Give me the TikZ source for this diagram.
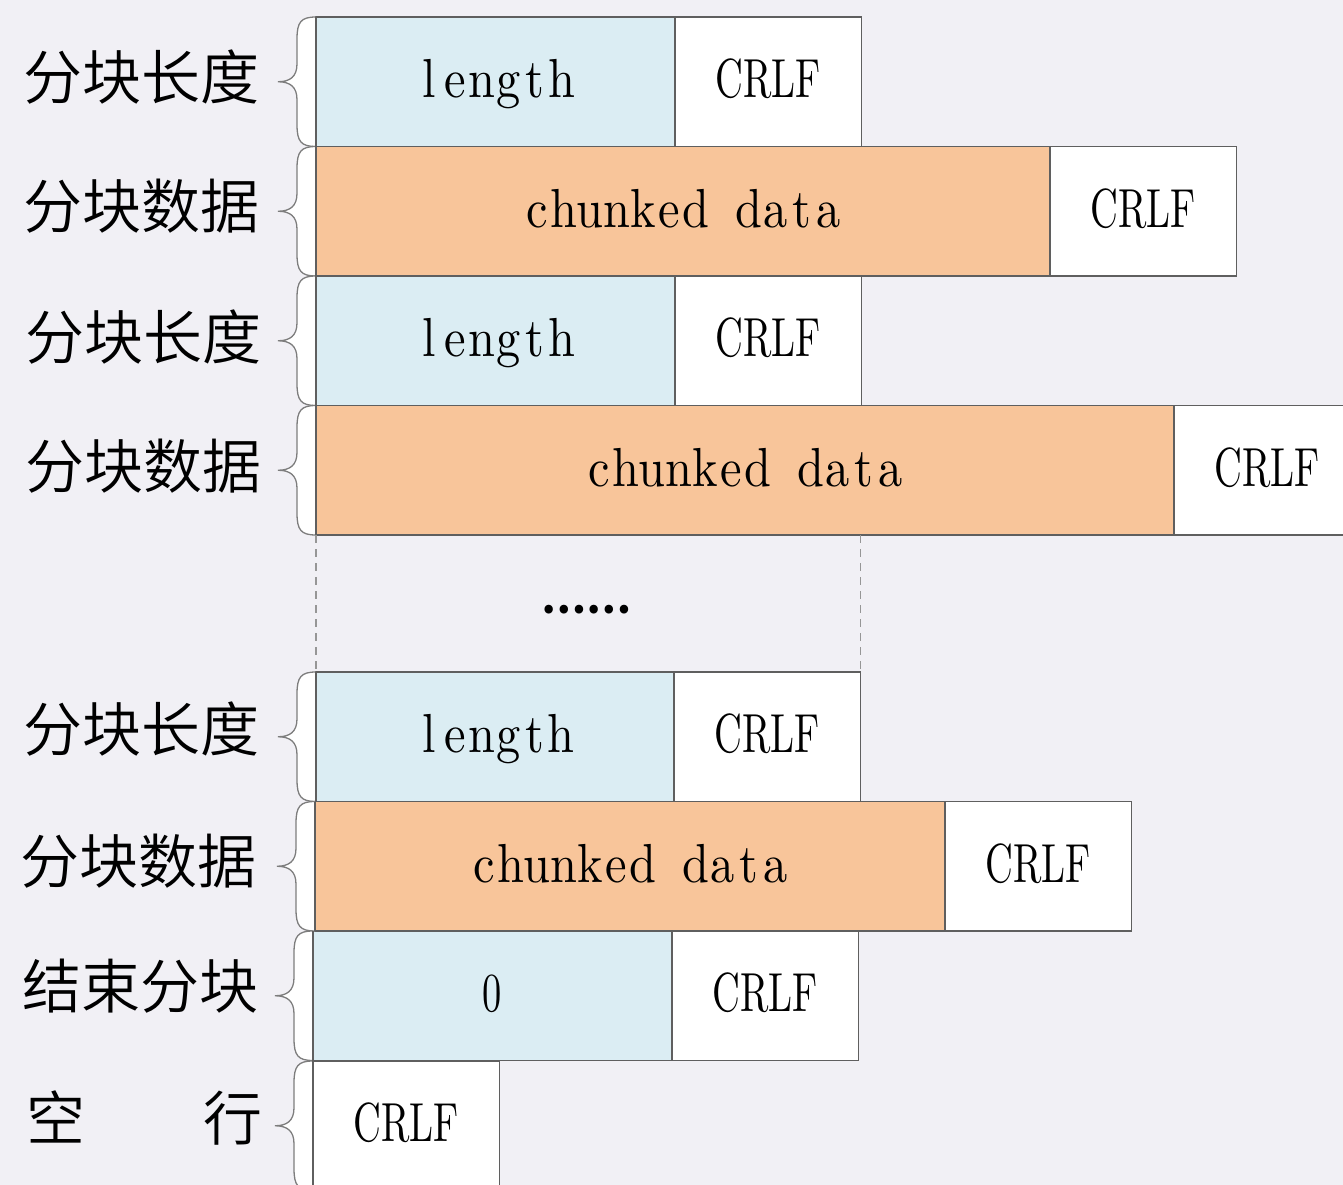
\documentclass[tikz,border=0pt]{standalone}
\usepackage{fontspec}
\usetikzlibrary{calc}
\newfontfamily\cjk{Noto Sans CJK SC DemiLight}
\newfontfamily\cjkreg{Noto Sans CJK SC}
\newfontfamily\latf[FakeStretch=0.88]{lmroman10-regular.otf}
\newfontfamily\capf[FakeStretch=0.70]{lmroman10-regular.otf}
\definecolor{bgc}{RGB}{241,240,245}
\definecolor{lenblue}{RGB}{219,237,243}
\definecolor{dataorg}{RGB}{248,197,154}
\definecolor{boxline}{RGB}{95,95,95}
\definecolor{braceline}{RGB}{125,125,125}
\definecolor{dashc}{RGB}{150,150,150}
\newlength\cellw
\setlength\cellw{26.5pt}
\def\cellloop#1{\ifx#1\relax\else\makebox[\cellw]{#1}\expandafter\cellloop\fi}
\newcommand\monotxt[1]{\cellloop#1\relax}
\newcommand\brc[1]{%
  \fill[white] (#1.north west)
    .. controls ($(#1.north west)+(-15,0)$) and ($(#1.north west)+(-19,5)$) .. ($(#1.north west)+(-19,22)$)
    -- ($(#1.west)+(-19,-18)$)
    .. controls ($(#1.west)+(-19,-5)$) and ($(#1.west)+(-26,0)$) .. ($(#1.west)+(-38,0)$)
    .. controls ($(#1.west)+(-26,0)$) and ($(#1.west)+(-19,5)$) .. ($(#1.west)+(-19,18)$)
    -- ($(#1.south west)+(-19,-22)$)
    .. controls ($(#1.south west)+(-19,-5)$) and ($(#1.south west)+(-15,0)$) .. (#1.south west) -- cycle;
  \draw[braceline, line width=1.3pt] (#1.north west)
    .. controls ($(#1.north west)+(-15,0)$) and ($(#1.north west)+(-19,5)$) .. ($(#1.north west)+(-19,22)$)
    -- ($(#1.west)+(-19,-18)$)
    .. controls ($(#1.west)+(-19,-5)$) and ($(#1.west)+(-26,0)$) .. ($(#1.west)+(-38,0)$)
    .. controls ($(#1.west)+(-26,0)$) and ($(#1.west)+(-19,5)$) .. ($(#1.west)+(-19,18)$)
    -- ($(#1.south west)+(-19,-22)$)
    .. controls ($(#1.south west)+(-19,-5)$) and ($(#1.south west)+(-15,0)$) .. (#1.south west);
}
\tikzset{
  cellbox/.style={draw=boxline, line width=1.3pt, inner sep=0pt, outer sep=0pt, minimum height=129.5pt,
    anchor=north west, text height=42pt, text depth=10pt, font=\fontsize{55}{60}\selectfont\latf},
  lenbox/.style={cellbox, fill=lenblue, minimum width=359pt},
  databox/.style={cellbox, fill=dataorg},
  crlfbox/.style={cellbox, fill=white, minimum width=186.5pt},
  lbl/.style={anchor=east, inner sep=0pt, text height=45pt, text depth=8pt,
    font=\fontsize{59}{62}\selectfont\cjk},
  dashln/.style={dashc, line width=1.3pt, dash pattern=on 8pt off 6pt},
}
\newcommand\crlf{{\capf CRLF}}
\begin{document}
\begin{tikzpicture}[x=1pt,y=-1pt]
\useasboundingbox (0,0) rectangle (1343,1185);
\fill[bgc] (0,0) rectangle (1343,1185);
\clip (0,0) rectangle (1343,1185);
% row boxes
\node[lenbox] (l1) at (316,17) {\monotxt{length}};
\node[crlfbox] (c1) at (l1.north east) {\crlf};
\node[databox, minimum width=734pt] (d2) at (316,146.5) {\monotxt{chunked}\makebox[\cellw]{}\monotxt{data}};
\node[crlfbox] (c2) at (d2.north east) {\crlf};
\node[lenbox] (l3) at (316,276) {\monotxt{length}};
\node[crlfbox] (c3) at (l3.north east) {\crlf};
\node[databox, minimum width=858pt] (d4) at (316,405.5) {\monotxt{chunked}\makebox[\cellw]{}\monotxt{data}};
\node[crlfbox] (c4) at (d4.north east) {\crlf};
\node[lenbox, minimum width=358pt] (l5) at (316,672) {\monotxt{length}};
\node[crlfbox] (c5) at (l5.north east) {\crlf};
\node[databox, minimum width=630pt] (d6) at (315,801.5) {\monotxt{chunked}\makebox[\cellw]{}\monotxt{data}};
\node[crlfbox] (c6) at (d6.north east) {\crlf};
\node[lenbox] (z7) at (313,931) {{\capf 0}};
\node[crlfbox] (c7) at (z7.north east) {\crlf};
\node[crlfbox] (c8) at (313,1061) {\crlf};
% braces
\foreach \n in {l1,d2,l3,d4,l5,d6,z7,c8} {\brc{\n}}
\foreach \n in {l1,d2,l3,d4,l5,d6,z7,c8} {\draw[boxline, line width=1.3pt] (\n.north west) -- (\n.south west);}
% labels
\node[lbl] (t1) at ($(l1.west)+(-56,-1)$) {分块长度};
\node[lbl] (t2) at ($(d2.west)+(-56,-1)$) {分块数据};
\node[lbl] (t3) at ($(l3.west)+(-54,0)$) {分块长度};
\node[lbl] (t4) at ($(d4.west)+(-54,0)$) {分块数据};
\node[lbl] (t5) at ($(l5.west)+(-56,-4)$) {分块长度};
\node[lbl] (t6) at ($(d6.west)+(-58,-1)$) {分块数据};
\node[lbl] (t7) at ($(z7.west)+(-54,-6)$) {结束分块};
\node[lbl] (t8) at ($(c8.west)+(-50,-4)$) {空\hspace{2em}行};
% gap
\draw[dashln] (d4.south west) -- (l5.north west);
\draw[dashln] (c5.north east |- d4.south) -- (c5.north east);
\node[inner sep=0pt, font=\fontsize{40}{44}\selectfont\cjkreg\bfseries] (dots) at (586,610) {……};
\end{tikzpicture}
\end{document}
